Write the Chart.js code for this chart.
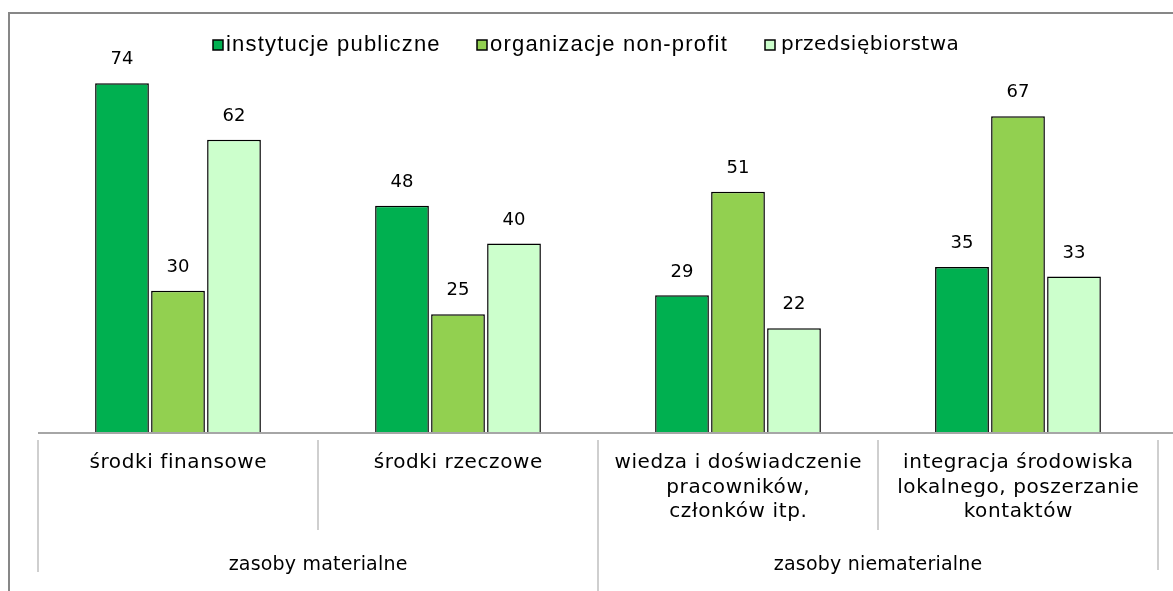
<!DOCTYPE html>
<html><head><meta charset="utf-8">
<script src="https://cdn.jsdelivr.net/npm/chart.js@4/dist/chart.umd.min.js"></script>
<style>html,body{margin:0;padding:0;background:#fff}#wrap{width:1173px;height:591px;position:relative}</style>
</head><body><div id="wrap"><canvas id="c" width="1173" height="591"></canvas></div>
<script>
const categories = [["środki finansowe"],["środki rzeczowe"],["wiedza i doświadczenie","pracowników,","członków itp."],["integracja środowiska","lokalnego, poszerzanie","kontaktów"]];
const groups = [{label:"zasoby materialne", from:0, to:1},{label:"zasoby niematerialne", from:2, to:3}];
const seriesNames = ["instytucje publiczne","organizacje non-profit","przedsiębiorstwa"];
const publiczne = [74,48,29,35];
const nonprofit = [30,25,51,67];
const przedsiebiorstwa = [62,40,22,33];
const colors = ["#00B050","#92D050","#CCFFCC"];

function spacedText(ctx, t, x, y, sp){
  ctx.letterSpacing = sp + 'px';
  if(ctx.textAlign==='center'){ ctx.fillText(t, x + sp/2, y); } else { ctx.fillText(t, x, y); }
  ctx.letterSpacing = '0px';
}

const deco = {
  id:'deco',
  afterDraw(chart){
    const ctx = chart.ctx, xs = chart.scales.x, ys = chart.scales.y, ca = chart.chartArea;
    ctx.save();
    ctx.strokeStyle='#878787'; ctx.lineWidth=2;
    ctx.strokeRect(9,13,1200,600);
    const base = ys.getPixelForValue(0);
    ctx.strokeStyle='#a6a6a6'; ctx.lineWidth=2;
    ctx.beginPath(); ctx.moveTo(ca.left, base+1); ctx.lineTo(1173, base+1); ctx.stroke();
    const n = categories.length;
    const step = (ca.right-ca.left)/n;
    ctx.strokeStyle='#bfbfbf'; ctx.lineWidth=1.5;
    for(let i=0;i<=n;i++){
      const x = ca.left + i*step;
      let y2 = 530;
      if(i===0) y2=572; else if(i===n) y2=570; else if(i===2) y2=595;
      ctx.beginPath(); ctx.moveTo(x, base+8); ctx.lineTo(x, y2); ctx.stroke();
    }
    ctx.fillStyle='#000'; ctx.textAlign='center'; ctx.textBaseline='middle';
    ctx.font='20px "DejaVu Sans"';
    categories.forEach((lines,i)=>{
      const x = xs.getPixelForValue(i);
      lines.forEach((t,j)=>spacedText(ctx, t, x, 463+j*24.5, 0.6));
    });
    ctx.font='19px "DejaVu Sans"';
    groups.forEach(g=>{
      const x = (xs.getPixelForValue(g.from)+xs.getPixelForValue(g.to))/2;
      spacedText(ctx, g.label, x, 565, 0.2);
    });
    ctx.font='18px "DejaVu Sans"';
    chart.data.datasets.forEach((ds,di)=>{
      const meta = chart.getDatasetMeta(di);
      meta.data.forEach((bar,i)=>{
        ctx.fillText(String(ds.data[i]), bar.x, bar.y-23.5);
      });
    });
    const legX=[213,477,765];
    ctx.textAlign='left';
    seriesNames.forEach((s,i)=>{
      ctx.fillStyle=colors[i]; ctx.fillRect(legX[i],40,10,10);
      ctx.strokeStyle='#000'; ctx.lineWidth=1.5; ctx.strokeRect(legX[i],40,10,10);
      ctx.fillStyle='#000';
      if(i<2){ ctx.font='22px "Liberation Sans"'; spacedText(ctx, s, legX[i]+13, 45, 1.2); }
      else { ctx.font='20px "DejaVu Sans"'; spacedText(ctx, s, legX[i]+16, 45, 0.5); }
    });
    ctx.restore();
  }
};

new Chart(document.getElementById('c'),{
  type:'bar',
  data:{labels:categories.map(c=>c.join(' ')),
    datasets:[publiczne,nonprofit,przedsiebiorstwa].map((d,i)=>({label:seriesNames[i],data:d,backgroundColor:colors[i],borderColor:'#000',borderWidth:1.5,categoryPercentage:0.6,barPercentage:0.96}))},
  options:{responsive:false,animation:false,
    layout:{padding:{left:38,right:15,top:55,bottom:159}},
    plugins:{legend:{display:false},tooltip:{enabled:false},title:{display:false}},
    scales:{x:{display:false},y:{display:false,min:0,max:80}}},
  plugins:[deco]
});
</script></body></html>
